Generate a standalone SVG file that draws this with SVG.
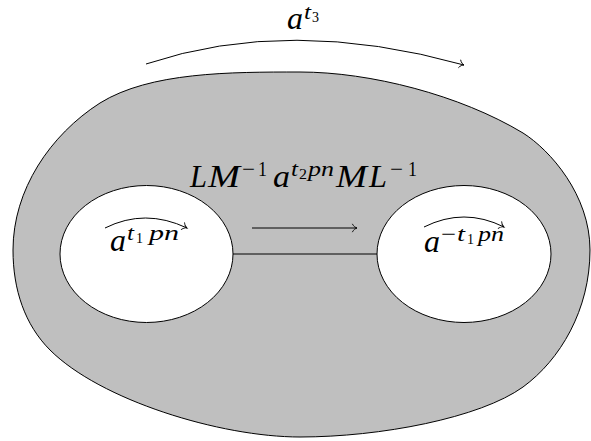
<svg xmlns="http://www.w3.org/2000/svg" width="591" height="441" viewBox="0 0 591 441">
<defs>
<marker id="to" markerUnits="userSpaceOnUse" orient="auto" refX="0" refY="0" markerWidth="12" markerHeight="12" viewBox="-6 -6 12 12" overflow="visible">
<path d="M-4.5,-3.8 C-3.6,-1.6 -1.2,-0.35 0,0 C-1.2,0.35 -3.6,1.6 -4.5,3.8" fill="none" stroke="#000" stroke-width="0.9" stroke-linecap="round"/>
</marker>
</defs>
<style>
.region{fill:#bfbfbf;stroke:#000;stroke-width:1}
.hole{fill:#fff;stroke:#000;stroke-width:1}
.edge{fill:none;stroke:#000;stroke-width:1}
.arr{fill:none;stroke:#000;stroke-width:1;marker-end:url(#to)}
text{font-family:'Liberation Serif','DejaVu Serif',serif;fill:#000}
.it{font-style:italic}
.big{font-size:31px}
.sup{font-size:21px}
.sub{font-size:15px}
</style>
<g id="outer">
<path class="region" d="M300,72 C370,72 460,95 523,133 C550,150 590,195 590,250 C590,310 560,360 523,387 C480,418 380,437 300,437 C220,437 100,400 50,350 C25,325 13,290 13,250 C13,190 50,135 100,103 C150,72 230,72 300,72 Z"/>
</g>
<g id="hole-left">
<ellipse class="hole" cx="146.5" cy="254" rx="86.5" ry="68.5"/>
<text><tspan class="it big" x="110" y="251" textLength="16" lengthAdjust="spacingAndGlyphs">a</tspan><tspan class="it sup" x="127" y="240" textLength="7" lengthAdjust="spacingAndGlyphs">t</tspan><tspan class="sub" x="136" y="243" textLength="7" lengthAdjust="spacingAndGlyphs">1</tspan><tspan class="it sup" x="149" y="240" textLength="30" lengthAdjust="spacingAndGlyphs">pn</tspan></text>
</g>
<g id="hole-right">
<ellipse class="hole" cx="464" cy="254" rx="87" ry="68.5"/>
<text><tspan class="big it" x="424" y="252" textLength="16" lengthAdjust="spacingAndGlyphs">a</tspan><tspan class="sup" x="441" y="241" textLength="15" lengthAdjust="spacingAndGlyphs">−</tspan><tspan class="it sup" x="457" y="241" textLength="8" lengthAdjust="spacingAndGlyphs">t</tspan><tspan class="sub" x="467" y="244" textLength="7" lengthAdjust="spacingAndGlyphs">1</tspan><tspan class="it sup" x="478" y="241" textLength="26" lengthAdjust="spacingAndGlyphs">pn</tspan></text>
</g>
<g id="connectors">
<line class="edge" x1="233" y1="254" x2="377" y2="254"/>
<path class="arr" d="M146,64 Q289,16 464,65"/>
<path class="arr" d="M252,228 L357,228"/>
<path class="arr" d="M105,228 Q145,208 187,228"/>
<path class="arr" d="M424,227 Q464,207 504,227"/>
</g>
<g id="labels">
<text><tspan class="it big" x="287" y="29" textLength="16" lengthAdjust="spacingAndGlyphs">a</tspan><tspan class="it sup" x="304" y="19" textLength="7" lengthAdjust="spacingAndGlyphs">t</tspan><tspan class="sub" x="312" y="22" textLength="7" lengthAdjust="spacingAndGlyphs">3</tspan></text>
<text><tspan class="it big" x="190" y="187" textLength="17" lengthAdjust="spacingAndGlyphs">L</tspan><tspan class="it big" x="208" y="187" textLength="32" lengthAdjust="spacingAndGlyphs">M</tspan><tspan class="sup" x="242" y="176" textLength="13" lengthAdjust="spacingAndGlyphs">−</tspan><tspan class="sup" x="258" y="176" textLength="9" lengthAdjust="spacingAndGlyphs">1</tspan><tspan class="it big" x="273" y="187" textLength="17" lengthAdjust="spacingAndGlyphs">a</tspan><tspan class="it sup" x="291" y="176" textLength="7" lengthAdjust="spacingAndGlyphs">t</tspan><tspan class="sub" x="299" y="179" textLength="8" lengthAdjust="spacingAndGlyphs">2</tspan><tspan class="it sup" x="308" y="176" textLength="26" lengthAdjust="spacingAndGlyphs">pn</tspan><tspan class="it big" x="336" y="187" textLength="31" lengthAdjust="spacingAndGlyphs">M</tspan><tspan class="it big" x="369" y="187" textLength="18" lengthAdjust="spacingAndGlyphs">L</tspan><tspan class="sup" x="390" y="176" textLength="13" lengthAdjust="spacingAndGlyphs">−</tspan><tspan class="sup" x="408" y="176" textLength="9" lengthAdjust="spacingAndGlyphs">1</tspan></text>
</g>
</svg>
